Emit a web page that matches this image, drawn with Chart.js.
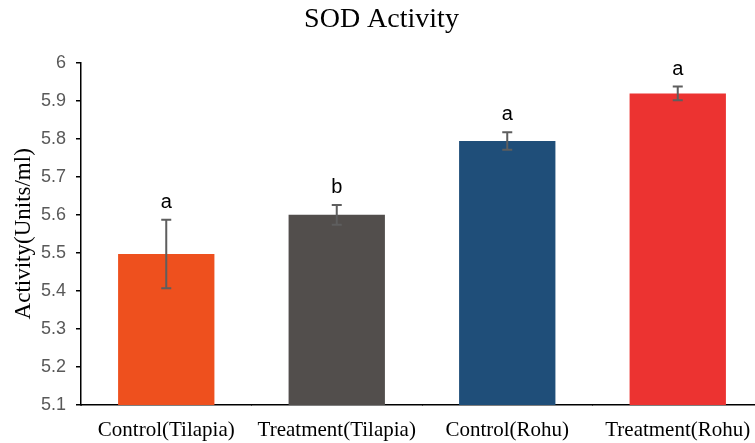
<!DOCTYPE html>
<html>
<head>
<meta charset="utf-8">
<script src="https://cdn.jsdelivr.net/npm/chart.js@4"></script>
<style>
  html, body { margin: 0; padding: 0; background: #fff; overflow: hidden; }
  #wrap { width: 764px; height: 443px; }
</style>
</head>
<body>
<div id="wrap"><canvas id="chart"></canvas></div>
<script>
// --- DATI ---
const categories = ["Control(Tilapia)", "Treatment(Tilapia)", "Control(Rohu)", "Treatment(Rohu)"];
const means = [5.497, 5.600, 5.794, 5.919];
const errors = [0.090, 0.026, 0.023, 0.018];
const letters = ["a", "b", "a", "a"];
const barColors = ["#EE501E", "#524E4C", "#1F4E79", "#EC3331"];
const yTicks = { min: 5.1, max: 6, step: 0.1 };

// error bars + lettere sopra le barre
const errorBarPlugin = {
    id: 'errorBars',
    afterDatasetsDraw(chart) {
        const ctx = chart.ctx;
        const y = chart.scales.y;
        const meta = chart.getDatasetMeta(0);
        ctx.save();
        meta.data.forEach((bar, i) => {
            const yHi = y.getPixelForValue(means[i] + errors[i]);
            const yLo = y.getPixelForValue(means[i] - errors[i]);
            const x = bar.x;
            ctx.strokeStyle = '#5E5E5E';
            ctx.lineWidth = 2;
            ctx.beginPath();
            ctx.moveTo(x, yHi); ctx.lineTo(x, yLo);
            ctx.moveTo(x - 5, yHi); ctx.lineTo(x + 5, yHi);
            ctx.moveTo(x - 5, yLo); ctx.lineTo(x + 5, yLo);
            ctx.stroke();

            ctx.fillStyle = '#000';
            ctx.font = '20px "Liberation Sans", Arial, sans-serif';
            ctx.textAlign = 'center';
            ctx.textBaseline = 'alphabetic';
            ctx.fillText(letters[i], x, yHi - 12);
        });
        ctx.restore();
    }
};

const ctx = document.getElementById('chart').getContext('2d');
new Chart(ctx, {
    type: 'bar',
    data: {
        labels: categories,
        datasets: [{
            data: means,
            backgroundColor: barColors,
            borderWidth: 0,
            categoryPercentage: 1,
            barPercentage: 0.565
        }]
    },
    options: {
        responsive: true,
        maintainAspectRatio: false,
        animation: false,
        layout: { padding: { left: 0, right: 1, top: 0, bottom: 0 } },
        plugins: {
            legend: { display: false },
            tooltip: { enabled: false },
            title: {
                display: true,
                text: 'SOD Activity',
                color: '#000',
                font: { family: '"Liberation Serif", "Times New Roman", serif', size: 28, weight: 'normal' },
                padding: { top: 3, bottom: 26 }
            }
        },
        scales: {
            x: {
                grid: { display: true, drawOnChartArea: false, tickLength: 0, color: '#000' },
                border: { display: true, color: '#000', width: 1.5 },
                ticks: {
                    color: '#000',
                    padding: 13,
                    maxRotation: 0,
                    font: { family: '"Liberation Serif", "Times New Roman", serif', size: 21 }
                },
                afterFit(scale) { scale.height = 38; }
            },
            y: {
                min: yTicks.min,
                max: yTicks.max,
                grid: { display: true, drawOnChartArea: false, tickLength: 5, color: '#000', lineWidth: 1.5 },
                border: { display: true, color: '#000', width: 1.5 },
                ticks: {
                    stepSize: yTicks.step,
                    color: '#595959',
                    padding: 10,
                    font: { family: '"Liberation Sans", Arial, sans-serif', size: 18 },
                    callback: v => String(Number(v.toFixed(1)))
                },
                title: {
                    display: true,
                    text: 'Activity(Units/ml)',
                    color: '#000',
                    font: { family: '"Liberation Serif", "Times New Roman", serif', size: 23 },
                    padding: { top: 10, bottom: 0 }
                },
                afterFit(scale) { scale.width = 81; }
            }
        }
    },
    plugins: [errorBarPlugin]
});
</script>
</body>
</html>
